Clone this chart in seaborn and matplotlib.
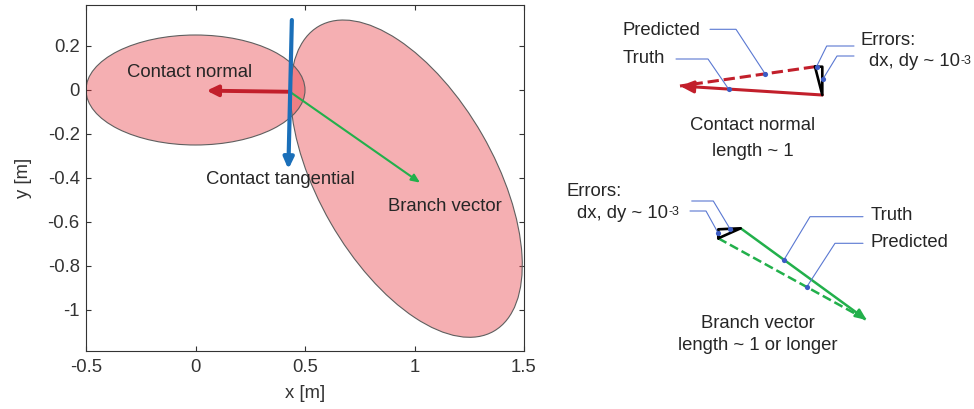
import matplotlib
matplotlib.use("Agg")
import matplotlib.pyplot as plt
from matplotlib.patches import Ellipse
import seaborn as sns

# ---------------- particle geometry (metres) ----------------
# two elliptical particles: centre, full width, full height, rotation (deg)
ell_cx = [0.0, 0.963]
ell_cy = [0.0, -0.403]
ell_w = [1.0, 1.6]
ell_h = [0.5, 0.8]
ell_angle = [0.0, -60.0]

# contact point and the vectors drawn around it
contact_x, contact_y = 0.431, -0.008
normal_tip_x, normal_tip_y = 0.051, -0.003
tangent_tail_x, tangent_tail_y = 0.440, 0.318
tangent_tip_x, tangent_tip_y = 0.424, -0.360
branch_tip_x, branch_tip_y = 1.025, -0.421

xticks = [-0.5, 0, 0.5, 1, 1.5]
xtick_labels = ["-0.5", "0", "0.5", "1", "1.5"]
yticks = [-1, -0.8, -0.6, -0.4, -0.2, 0, 0.2]
ytick_labels = ["-1", "-0.8", "-0.6", "-0.4", "-0.2", "0", "0.2"]

# ---------------- error sketches (figure pixels, y downward) ----------------
# contact normal: truth / predicted vectors and the error triangle
cn_truth_x = [822.3, 680.0]
cn_truth_y = [95.0, 86.0]
cn_pred_x = [815.0, 680.0]
cn_pred_y = [66.7, 86.0]
cn_tri_x = [815.0, 822.3, 822.3, 815.0]
cn_tri_y = [66.7, 66.7, 95.0, 66.7]
cn_lead_pred_x = [710.0, 736.0, 765.0]
cn_lead_pred_y = [29.3, 29.3, 73.6]
cn_lead_truth_x = [676.0, 708.0, 728.7]
cn_lead_truth_y = [59.0, 59.0, 89.2]
cn_lead_err1_x = [854.0, 826.7, 816.5]
cn_lead_err1_y = [46.0, 46.0, 66.7]
cn_lead_err2_x = [854.0, 837.0, 822.8]
cn_lead_err2_y = [56.0, 56.0, 79.3]

# branch vector: truth / predicted vectors and the error triangle
bv_truth_x = [740.7, 866.7]
bv_truth_y = [228.3, 320.0]
bv_pred_x = [718.3, 866.7]
bv_pred_y = [238.3, 320.0]
bv_tri_x = [718.3, 718.3, 740.7, 718.3]
bv_tri_y = [238.3, 229.3, 228.3, 238.3]
bv_lead_truth_x = [863.0, 810.0, 784.0]
bv_lead_truth_y = [216.7, 216.7, 259.8]
bv_lead_pred_x = [863.0, 835.0, 806.7]
bv_lead_pred_y = [243.3, 243.3, 287.0]
bv_lead_err1_x = [691.7, 713.3, 730.0]
bv_lead_err1_y = [201.0, 201.0, 228.8]
bv_lead_err2_x = [690.0, 706.0, 718.3]
bv_lead_err2_y = [211.0, 211.0, 233.3]

# ---------------- style ----------------
sns.set_theme(style="ticks")
plt.rcParams["font.family"] = ["Liberation Sans", "DejaVu Sans"]
plt.rcParams["axes.unicode_minus"] = False

RED = "#c21f2b"
BLUE = "#1a6fb9"
GREEN = "#22b04b"
PINK = (0.91, 0.22, 0.25)
LEAD = "#5a78d2"
DOT = "#3c5cc4"
AXC = "#333333"
FS = 13.3

fig = plt.figure(figsize=(9.74, 4.09), dpi=100)

# ---------------- left panel ----------------
ax = fig.add_axes([86 / 974, (409 - 350.7) / 409, 438 / 974, 345.4 / 409])
ax.set_xlim(-0.5, 1.5)
ax.set_ylim(-1.185, 0.385)

for cx, cy, w, h, ang in zip(ell_cx, ell_cy, ell_w, ell_h, ell_angle):
    ax.add_patch(Ellipse((cx, cy), w, h, angle=ang, facecolor=PINK, alpha=0.4,
                         edgecolor="none", zorder=1))
    ax.add_patch(Ellipse((cx, cy), w, h, angle=ang, facecolor="none",
                         edgecolor="#5f5f5f", lw=0.8, zorder=1.5))


def arrow(a, x0, y0, x1, y1, color, lw, hl, hw, z=3):
    a.annotate("", xy=(x1, y1), xytext=(x0, y0),
               arrowprops=dict(arrowstyle=f"-|>,head_length={hl},head_width={hw}",
                               color=color, lw=lw, shrinkA=0, shrinkB=0,
                               mutation_scale=1),
               zorder=z)


arrow(ax, contact_x, contact_y, normal_tip_x, normal_tip_y, RED, 2.8, 6.5, 3.2)
arrow(ax, contact_x, contact_y, branch_tip_x, branch_tip_y, GREEN, 1.5, 5.0, 2.2)
arrow(ax, tangent_tail_x, tangent_tail_y, tangent_tip_x, tangent_tip_y, BLUE, 3.0, 6.5, 3.0)

ax.text(-0.314, 0.079, "Contact normal", fontsize=FS, va="center", ha="left", zorder=5)
ax.text(0.046, -0.409, "Contact tangential", fontsize=FS, va="center", ha="left", zorder=5)
ax.text(0.879, -0.53, "Branch vector", fontsize=FS, va="center", ha="left", zorder=5)

ax.set_xticks(xticks)
ax.set_xticklabels(xtick_labels)
ax.set_yticks(yticks)
ax.set_yticklabels(ytick_labels)
ax.tick_params(direction="in", length=3.6, width=0.8, top=True, right=True,
               labelsize=FS, colors=AXC, pad=6)
ax.tick_params(axis="y", pad=4.5)
for s in ax.spines.values():
    s.set_visible(True)
    s.set_color(AXC)
    s.set_linewidth(0.8)
ax.set_xlabel("x [m]", fontsize=FS, color=AXC, va="center")
ax.set_ylabel("y [m]", fontsize=FS, color=AXC, va="center")
ax.xaxis.set_label_coords(0.5, (350.7 - 393) / 345.4)
ax.yaxis.set_label_coords((24 - 86) / 438, 0.5)

# ---------------- right sketches (pixel coordinates) ----------------
sk = fig.add_axes([0, 0, 1, 1])
sk.set_xlim(0, 974)
sk.set_ylim(409, 0)
sk.axis("off")
sk.patch.set_alpha(0)


def polyline(xs, ys, color, lw, ls="-", z=2):
    sns.lineplot(x=xs, y=ys, sort=False, estimator=None, color=color, lw=lw,
                 ls=ls, ax=sk, zorder=z, legend=False)


def error_label(x, y):
    base = sk.text(x, y, "dx, dy ~ 10", fontsize=FS, va="center", ha="left")
    sk.annotate("-3", xy=(1, 1), xycoords=base, xytext=(0.3, -1.0),
                textcoords="offset points", fontsize=FS * 0.68,
                va="top", ha="left")


# contact normal sketch
polyline(cn_pred_x, cn_pred_y, RED, 2.2, "--")
arrow(sk, cn_truth_x[0], cn_truth_y[0], cn_truth_x[1], cn_truth_y[1], RED, 2.2, 8.0, 3.6)
polyline(cn_tri_x, cn_tri_y, "black", 1.9, z=4)
for xs, ys in [(cn_lead_pred_x, cn_lead_pred_y), (cn_lead_truth_x, cn_lead_truth_y),
               (cn_lead_err1_x, cn_lead_err1_y), (cn_lead_err2_x, cn_lead_err2_y)]:
    polyline(xs, ys, LEAD, 0.8, z=5)
    sns.scatterplot(x=[xs[-1]], y=[ys[-1]], color=DOT, s=14, linewidth=0, ax=sk,
                    zorder=6, legend=False)

sk.text(623, 30.7, "Predicted", fontsize=FS, va="center", ha="left")
sk.text(623, 58.3, "Truth", fontsize=FS, va="center", ha="left")
sk.text(861, 40.7, "Errors:", fontsize=FS, va="center", ha="left")
error_label(869, 61.7)
sk.text(753, 126, "Contact normal", fontsize=FS, va="center", ha="center")
sk.text(753, 152, "length ~ 1", fontsize=FS, va="center", ha="center")

# branch vector sketch
polyline(bv_pred_x, bv_pred_y, GREEN, 1.8, "--")
arrow(sk, bv_truth_x[0], bv_truth_y[0], bv_truth_x[1], bv_truth_y[1], GREEN, 1.8, 6.5, 2.8)
polyline(bv_tri_x, bv_tri_y, "black", 1.9, z=4)
for xs, ys in [(bv_lead_truth_x, bv_lead_truth_y), (bv_lead_pred_x, bv_lead_pred_y),
               (bv_lead_err1_x, bv_lead_err1_y), (bv_lead_err2_x, bv_lead_err2_y)]:
    polyline(xs, ys, LEAD, 0.8, z=5)
    sns.scatterplot(x=[xs[-1]], y=[ys[-1]], color=DOT, s=14, linewidth=0, ax=sk,
                    zorder=6, legend=False)

sk.text(567, 192, "Errors:", fontsize=FS, va="center", ha="left")
error_label(577, 213)
sk.text(871, 216, "Truth", fontsize=FS, va="center", ha="left")
sk.text(871, 242.7, "Predicted", fontsize=FS, va="center", ha="left")
sk.text(758, 323, "Branch vector", fontsize=FS, va="center", ha="center")
sk.text(758, 345.7, "length ~ 1 or longer", fontsize=FS, va="center", ha="center")

fig.savefig("out.png", dpi=100)
